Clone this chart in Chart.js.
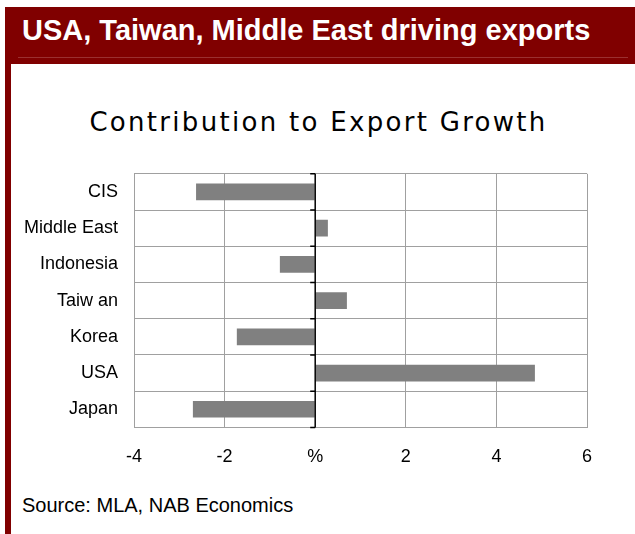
<!DOCTYPE html>
<html>
<head>
<meta charset="utf-8">
<script src="https://cdn.jsdelivr.net/npm/chart.js@4"></script>
<style>
  body { margin: 0; background: #fff; }
  #page { position: relative; width: 635px; height: 534px; overflow: hidden; font-family: "Liberation Sans", Arial, sans-serif; }
  #leftBar { position: absolute; left: 5px; top: 7px; width: 6px; height: 527px; background: #800000; }
  #header { position: absolute; left: 5px; top: 7px; width: 630px; height: 57px; background: #800000; }
  #header .text { position: absolute; left: 17px; top: 9px; color: #fff; font-weight: bold; font-size: 29px; line-height: 1; white-space: nowrap; }
  #header .rule { position: absolute; left: 13px; top: 50px; width: 610px; height: 1px; background: #9b3030; }
  #chartTitle { position: absolute; left: 0; top: 109px; width: 637px; text-align: center; font-family: "DejaVu Sans", Verdana, sans-serif; font-size: 26px; line-height: 1; letter-spacing: 2.3px; color: #000; white-space: nowrap; }
  #chartBox { position: absolute; left: 0; top: 147px; width: 635px; height: 345px; }
  #source { position: absolute; left: 22px; top: 495px; font-size: 20px; line-height: 1; color: #000; white-space: nowrap; }
</style>
</head>
<body>
<div id="page">
  <div id="leftBar"></div>
  <div id="header"><div class="text">USA, Taiwan, Middle East driving exports</div><div class="rule"></div></div>
  <div id="chartTitle">Contribution to Export Growth</div>
  <div id="chartBox"><canvas id="exportChart" width="635" height="345"></canvas></div>
  <div id="source">Source: MLA, NAB Economics</div>
</div>
<script>
// 各市場對出口成長的貢獻 (%)
const countries = ['CIS', 'Middle East', 'Indonesia', 'Taiw an', 'Korea', 'USA', 'Japan'];
const contribution = [-2.63, 0.28, -0.78, 0.70, -1.73, 4.85, -2.70];
// x 軸刻度文字 (0 的位置顯示 %)
const xTickLabels = ['-4', '-2', '%', '2', '4', '6'];

const gridGray = '#a0a0a0';
const labelFont = { family: '"Liberation Sans", Arial, sans-serif', size: 18 };

// 零軸：黑色直線加上類別分隔的小刻度
const zeroAxis = {
  id: 'zeroAxis',
  afterDatasetsDraw(chart) {
    const ctx = chart.ctx;
    const x = chart.scales.x;
    const y = chart.scales.y;
    const x0 = x.getPixelForValue(0);
    ctx.save();
    ctx.strokeStyle = '#000';
    ctx.lineWidth = 1.5;
    ctx.beginPath();
    ctx.moveTo(x0, chart.chartArea.top);
    ctx.lineTo(x0, chart.chartArea.bottom);
    for (let i = 0; i <= countries.length; i++) {
      const yy = y.getPixelForValue(i - 0.5);
      ctx.moveTo(x0 - 5, yy);
      ctx.lineTo(x0, yy);
    }
    ctx.stroke();
    ctx.restore();
  }
};

new Chart(document.getElementById('exportChart'), {
  type: 'bar',
  data: {
    labels: countries,
    datasets: [{
      data: contribution,
      backgroundColor: '#808080',
      borderWidth: 0,
      barPercentage: 0.46,
      categoryPercentage: 1
    }]
  },
  options: {
    indexAxis: 'y',
    responsive: false,
    animation: false,
    layout: { padding: { top: 20, right: 48, bottom: 5, left: 0 } },
    plugins: { legend: { display: false }, tooltip: { enabled: false } },
    scales: {
      x: {
        min: -4,
        max: 6,
        ticks: {
          stepSize: 2,
          color: '#000',
          font: labelFont,
          padding: 19,
          callback: (v, i) => xTickLabels[i]
        },
        grid: {
          color: c => (c.tick && c.tick.value === 0) ? 'rgba(0,0,0,0)' : gridGray,
          drawTicks: false
        },
        border: { color: gridGray }
      },
      y: {
        ticks: { color: '#000', font: labelFont, padding: 16 },
        grid: { offset: true, color: gridGray, drawTicks: false },
        border: { color: gridGray },
        afterFit(scale) { scale.width = 134; }
      }
    }
  },
  plugins: [zeroAxis]
});
</script>
</body>
</html>
